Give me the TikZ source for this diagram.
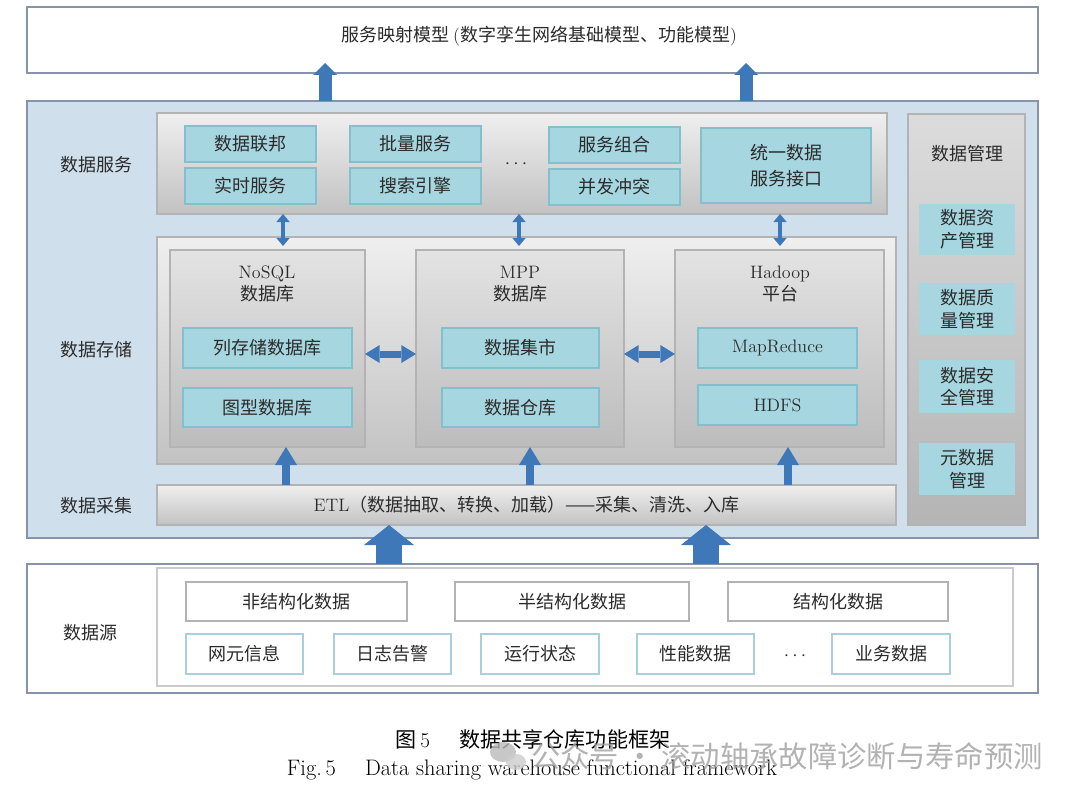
\documentclass[tikz,border=0pt]{standalone}
\usepackage{fontspec}
\usetikzlibrary{arrows.meta}
\newfontfamily\song{Noto Sans CJK SC}
\newfontfamily\wmfont{Noto Sans CJK SC}
\definecolor{txt}{HTML}{2B2B2B}
\definecolor{outerb}{HTML}{8793AA}
\definecolor{panelfill}{HTML}{D0DFEC}
\definecolor{grayb}{HTML}{B3B3B3}
\definecolor{gtop}{HTML}{EFEFEF}
\definecolor{gbot}{HTML}{C2C2C2}
\definecolor{cyanfill}{HTML}{A6D6DF}
\definecolor{cyanb}{HTML}{84BFCC}
\definecolor{sblueb}{HTML}{A8CFDA}
\definecolor{arrowc}{HTML}{3E78B9}
\newcommand{\mybox}[7]{\node[#6, minimum width={(#4-#2)*0.75pt}, minimum height={(#5-#3)*0.75pt}] (#1) at ({(#2+#4)/2},{(#3+#5)/2}) {#7};}
\tikzset{
  base/.style={inner sep=0pt, outer sep=0pt, font=\song\fontsize{13.5}{17}\selectfont, text=txt, align=center},
  wbox/.style={base, draw=outerb, line width=1.2pt, fill=white},
  panelbox/.style={base, draw=outerb, line width=1.2pt, fill=panelfill},
  gbox/.style={base, draw=grayb, line width=0.8pt, top color=gtop, bottom color=gbot},
  gbox2/.style={base, draw=grayb, line width=0.8pt, top color=gtop!95!black, bottom color=gbot!97!black},
  mbox/.style={base, draw=grayb, line width=0.8pt, top color=gtop!92!black, bottom color=gbot!93!black},
  cbox/.style={base, draw=cyanb, line width=1pt, fill=cyanfill},
  cboxnb/.style={base, fill=cyanfill},
  sgray/.style={base, draw=grayb, line width=1pt, fill=white},
  sinner/.style={base, draw=grayb!70, line width=1pt, fill=white},
  sblue/.style={base, draw=sblueb, line width=1.5pt, fill=white},
  lab/.style={base},
  captext/.style={inner sep=0pt, font=\song\fontsize{15.8}{18}\selectfont, text=black},
  toparr/.style={arrowc, line width=9.75pt, -{Triangle[width=18pt 0 0, length=9pt 0 0, line width=0pt 0 0]}},
  vdbl/.style={arrowc, line width=3pt, {Triangle[width=10pt 0 0, length=6pt 0 0, line width=0pt 0 0]}-{Triangle[width=10pt 0 0, length=6pt 0 0, line width=0pt 0 0]}},
  hdbl/.style={arrowc, line width=5.25pt, {Triangle[width=13.5pt 0 0, length=11pt 0 0, line width=0pt 0 0]}-{Triangle[width=13.5pt 0 0, length=11pt 0 0, line width=0pt 0 0]}},
  etlarr/.style={arrowc, line width=6pt, -{Triangle[width=16.5pt 0 0, length=13.5pt 0 0, line width=0pt 0 0]}},
  bigarr/.style={arrowc, line width=19.5pt, -{Triangle[width=37.5pt 0 0, length=15pt 0 0, line width=0pt 0 0]}}
}
\begin{document}
\begin{tikzpicture}[x=0.75pt,y=-0.75pt]
\fill[white] (0,0) rectangle (1080,799);
\useasboundingbox (0,0) rectangle (1080,799);
% top
\mybox{top}{27}{7}{1038}{73}{wbox}{}
\node[lab] (toptext) at (539,36) {服务映射模型 {\rmfamily(}数字孪生网络基础模型、功能模型{\rmfamily)}};
% panel
\mybox{panel}{27}{101}{1038}{538}{panelbox}{}
\node[lab] (lsvc) at (96,165) {数据服务};
\node[lab] (lsto) at (96,350) {数据存储};
\node[lab] (lcol) at (96,506) {数据采集};
% services
\mybox{svc}{157}{113}{887}{214}{gbox}{}
\mybox{fed}{185}{126}{316}{162}{cbox}{数据联邦}
\mybox{rt}{185}{168}{316}{204}{cbox}{实时服务}
\mybox{batch}{350}{126}{481}{162}{cbox}{批量服务}
\mybox{search}{350}{168}{481}{204}{cbox}{搜索引擎}
\node[lab] (sdots) at (516,164) {$\cdots$};
\mybox{comp}{549}{127}{680}{163}{cbox}{服务组合}
\mybox{conc}{549}{169}{680}{205}{cbox}{并发冲突}
\mybox{api}{701}{128}{871}{203}{cbox}{统一数据\\[2pt]服务接口}
% management
\mybox{mgmt}{908}{114}{1025}{525}{mbox}{}
\node[lab] (mgmtT) at (967,154) {数据管理};
\mybox{m1}{919}{204}{1015}{255}{cboxnb}{数据资\\产管理}
\mybox{m2}{919}{283}{1015}{335}{cboxnb}{数据质\\量管理}
\mybox{m3}{919}{360}{1015}{413}{cboxnb}{数据安\\全管理}
\mybox{m4}{919}{443}{1015}{495}{cboxnb}{元数据\\管理}
% storage
\mybox{sto}{157}{237}{896}{464}{gbox}{}
\mybox{nosql}{170}{250}{365}{447}{gbox2}{}
\mybox{mpp}{416}{250}{624}{447}{gbox2}{}
\mybox{hadoop}{675}{250}{884}{447}{gbox2}{}
\node[lab] (nosqlT) at (267,284) {{\rmfamily NoSQL}\\数据库};
\node[lab] (mppT) at (520,284) {{\rmfamily MPP}\\数据库};
\node[lab] (hadoopT) at (780,284) {{\rmfamily Hadoop}\\平台};
\mybox{col}{183}{328}{352}{368}{cbox}{列存储数据库}
\mybox{graph}{183}{388}{352}{427}{cbox}{图型数据库}
\mybox{mart}{442}{328}{599}{368}{cbox}{数据集市}
\mybox{wh}{442}{388}{599}{427}{cbox}{数据仓库}
\mybox{mr}{698}{328}{857}{368}{cbox}{{\rmfamily MapReduce}}
\mybox{hdfs}{698}{385}{857}{425}{cbox}{{\rmfamily HDFS}}
% ETL
\mybox{etl}{157}{485}{896}{525}{gbox}{{\rmfamily ETL}（数据抽取、转换、加载）——采集、清洗、入库}
% source
\mybox{src}{27}{564}{1038}{693}{wbox}{}
\node[lab] (lsrc) at (90,633) {数据源};
\mybox{srcin}{157}{568}{1013}{686}{sinner}{}
\mybox{unstr}{186}{582}{407}{621}{sgray}{非结构化数据}
\mybox{semi}{455}{582}{689}{621}{sgray}{半结构化数据}
\mybox{struct}{728}{582}{948}{621}{sgray}{结构化数据}
\mybox{ne}{186}{634}{303}{674}{sblue}{网元信息}
\mybox{logw}{334}{634}{451}{674}{sblue}{日志告警}
\mybox{run}{481}{634}{599}{674}{sblue}{运行状态}
\mybox{perf}{637}{634}{754}{674}{sblue}{性能数据}
\node[lab] (srcdots) at (795,656) {$\cdots$};
\mybox{biz}{832}{634}{950}{674}{sblue}{业务数据}
% arrow coordinates
\coordinate (t1) at (325,63);
\coordinate (t2) at (746,63);
\coordinate (d1) at (283,0);
\coordinate (d2) at (519,0);
\coordinate (d3) at (780,0);
\coordinate (hy) at (0,354);
\coordinate (e1) at (286,0);
\coordinate (e2) at (530,0);
\coordinate (e3) at (788,0);
\coordinate (b1) at (389,0);
\coordinate (b2) at (706,0);
% arrows
\draw[toparr] (panel.north -| t1) -- (t1);
\draw[toparr] (panel.north -| t2) -- (t2);
\draw[vdbl, shorten >=3pt] (svc.south -| d1) -- (nosql.north -| d1);
\draw[vdbl, shorten >=3pt] (svc.south -| d2) -- (mpp.north -| d2);
\draw[vdbl, shorten >=3pt] (svc.south -| d3) -- (hadoop.north -| d3);
\draw[hdbl] (nosql.east |- hy) -- (mpp.west |- hy);
\draw[hdbl] (mpp.east |- hy) -- (hadoop.west |- hy);
\draw[etlarr] (etl.north -| e1) -- (nosql.south -| e1);
\draw[etlarr] (etl.north -| e2) -- (mpp.south -| e2);
\draw[etlarr] (etl.north -| e3) -- (hadoop.south -| e3);
\draw[bigarr] (src.north -| b1) -- (etl.south -| b1);
\draw[bigarr] (src.north -| b2) -- (etl.south -| b2);
% caption
\node[captext] (capzh) at (533,739) {图\,{\rmfamily 5}\hspace{1.4em}数据共享仓库功能框架};
\node[captext, font=\rmfamily\fontsize{16.8}{19}\selectfont] (capen) at (532,770) {Fig.\,5\hspace{1.3em}Data sharing warehouse functional framework};
% watermark
\fill[gray!55, opacity=0.8] (503,752) ellipse (13 and 10);
\fill[gray!40, opacity=0.8] (516,762) ellipse (10 and 8);
\node[inner sep=0pt, font=\wmfont\fontsize{22}{24}\selectfont, text=gray!75, opacity=0.8] (wmark) at (787,756) {公众号 · 滚动轴承故障诊断与寿命预测};
\end{tikzpicture}
\end{document}
